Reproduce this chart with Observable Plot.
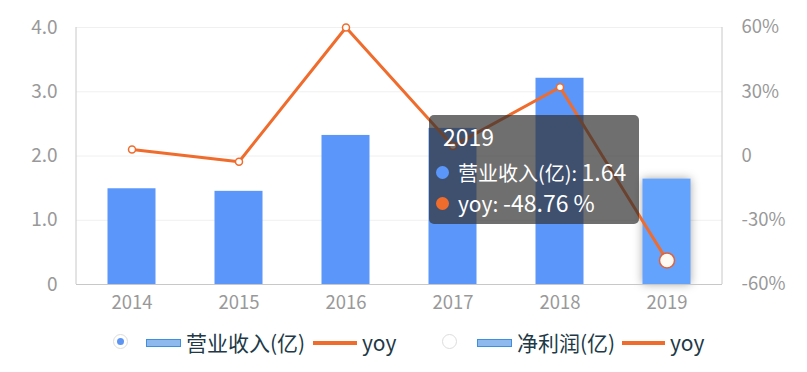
<!DOCTYPE html>
<html><head><meta charset="utf-8">
<script src="https://cdn.jsdelivr.net/npm/d3@7"></script>
<script src="https://cdn.jsdelivr.net/npm/@observablehq/plot@0.6"></script>
<style>
body{margin:0;background:#fff;font-family:"Noto Sans CJK SC","Noto Sans",sans-serif;}
#wrap{position:relative;width:807px;height:372px;overflow:hidden;}
.lg{position:absolute;font-size:21px;color:#213947;line-height:21px;top:332px;white-space:nowrap;}
.radio{position:absolute;width:15px;height:15px;border:1.5px solid #ddd;border-radius:50%;top:334px;box-sizing:border-box;}
.radio.on::after{content:"";position:absolute;left:3px;top:3px;width:7px;height:7px;border-radius:50%;background:#5e95f2;}
.bx{position:absolute;top:339px;width:35px;height:8px;background:#8db9ef;border:1.5px solid #3f8fdf;box-sizing:border-box;}
.ln{position:absolute;top:341px;height:4px;background:#ef6c2d;}
#tip{position:absolute;left:429px;top:115px;width:210px;height:109px;background:rgba(50,50,50,0.7);border-radius:5px;color:#fff;font-size:20px;}
#tip div{position:absolute;white-space:nowrap;line-height:22px;}
#tip .dot{width:13px;height:13px;border-radius:50%;}
</style></head><body><div id="wrap"></div>
<script>
const years = ["2014","2015","2016","2017","2018","2019"];
const revenue = [1.49, 1.45, 2.32, 2.43, 3.21, 1.64];
const yoy = [3.0, -2.7, 60.0, 4.7, 32.1, -48.76];
const leftTicks = [0, 1, 2, 3, 4];
const rightTicks = [-60, -30, 0, 30, 60];
const seriesNames = ["营业收入(亿)", "yoy", "净利润(亿)", "yoy"];
const highlight = "2019";

const BLUE = "#5b97fa", BLUE_HI = "#64a3fd", ORANGE = "#ef6c2d";
const toLeft = v => 2 + v / 30; // right axis (%) -> left axis units
const data = years.map((y, i) => ({year: y, rev: revenue[i], yoy: yoy[i], yy: toLeft(yoy[i])}));

const plot = Plot.plot({
  width: 807, height: 320,
  marginTop: 27, marginBottom: 36, marginLeft: 76, marginRight: 85,
  style: {fontFamily: '"Noto Sans CJK SC","Noto Sans",sans-serif', fontSize: "18px", color: "#999", background: "transparent", overflow: "visible"},
  x: {domain: years, padding: 0, label: null},
  y: {domain: [0, 4], label: null},
  marks: [
    Plot.gridY(leftTicks.slice(1), {stroke: "#f0f0f0", strokeOpacity: 1, strokeWidth: 1}),
    Plot.barY(data, {x: "year", y: "rev", fill: d => d.year === highlight ? BLUE_HI : BLUE, insetLeft: 29.5, insetRight: 29.5}),
    Plot.ruleY([0], {stroke: "#c8c8c8", strokeWidth: 1}),
    Plot.axisY(leftTicks, {tickSize: 0, tickPadding: 19, fill: "#999", fontSize: 19, tickFormat: d => d === 0 ? "0" : d.toFixed(1), label: null}),
    Plot.axisY(rightTicks.map(toLeft), {anchor: "right", tickSize: 0, tickPadding: 19, fill: "#999", fontSize: 18.5, textAnchor: "start", label: null,
      tickFormat: d => { const v = Math.round((d - 2) * 30); return v === 0 ? "0" : v + "%"; }}),
    Plot.axisX({tickSize: 0, tickPadding: 11, fill: "#999", fontSize: 18.5, label: null}),
    Plot.line(data, {x: "year", y: "yy", stroke: ORANGE, strokeWidth: 3}),
    Plot.dot(data.filter(d => d.year !== highlight), {x: "year", y: "yy", r: 3.5, fill: "#fff", stroke: ORANGE, strokeWidth: 1.5}),
    Plot.dot(data.filter(d => d.year === highlight), {x: "year", y: "yy", r: 7.5, fill: "#fffaf3", stroke: "#e0623a", strokeWidth: 1.5})
  ]
});

const wrap = document.getElementById("wrap");
wrap.appendChild(plot);
// vertical axis lines at both edges of the frame
const xr = plot.scale("x").range, yr = plot.scale("y").range;
const svg = d3.select(plot);
[xr[0], xr[1]].forEach(x => svg.append("line").attr("x1", x).attr("x2", x).attr("y1", yr[0]).attr("y2", yr[1]).attr("stroke", "#c8c8c8"));
// shadow on highlighted bar
svg.selectAll("g[aria-label='bar'] rect").filter((d, i) => i === years.indexOf(highlight))
  .style("filter", "drop-shadow(0 0 5px rgba(0,0,0,0.35))");

// legend
const lg = [
  '<div class="radio on" style="left:113px"></div>',
  '<div class="bx" style="left:146px"></div>',
  `<div class="lg" style="left:186px">${seriesNames[0]}</div>`,
  '<div class="ln" style="left:313px;width:44px"></div>',
  `<div class="lg" style="left:362px">${seriesNames[1]}</div>`,
  '<div class="radio" style="left:442px"></div>',
  '<div class="bx" style="left:477px"></div>',
  `<div class="lg" style="left:517px">${seriesNames[2]}</div>`,
  '<div class="ln" style="left:622px;width:43px"></div>',
  `<div class="lg" style="left:670px">${seriesNames[3]}</div>`
];
wrap.insertAdjacentHTML("beforeend", lg.join(""));

// tooltip
const hi = data.find(d => d.year === highlight);
wrap.insertAdjacentHTML("beforeend",
  `<div id="tip">
     <div style="left:14px;top:10px;font-size:23px">${hi.year}</div>
     <div class="dot" style="left:7px;top:51px;background:${BLUE}"></div>
     <div style="left:29px;top:45px;font-size:20px">${seriesNames[0]}: <span style="font-size:23px">${hi.rev.toFixed(2)}</span></div>
     <div class="dot" style="left:7px;top:82px;background:${ORANGE}"></div>
     <div style="left:29px;top:76px;font-size:21px">yoy: <span style="font-size:23px">${hi.yoy.toFixed(2)} %</span></div>
   </div>`);
</script>
</body></html>
